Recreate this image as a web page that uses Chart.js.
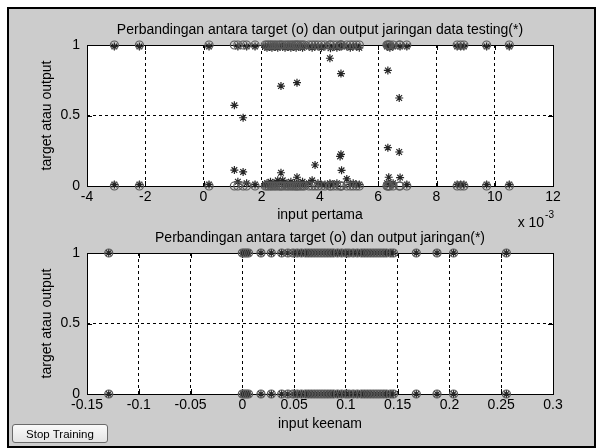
<!DOCTYPE html>
<html>
<head>
<meta charset="utf-8">
<script src="https://cdn.jsdelivr.net/npm/chart.js@4/dist/chart.umd.min.js"></script>
<style>
  html, body { margin: 0; padding: 0; background: #fff; }
  #fig { position: relative; width: 603px; height: 448px; overflow: hidden; background: #fff; }
  #frame { position: absolute; left: 7px; top: 7px; width: 585px; height: 437px; background: #cccccc; border: 2px solid #000; }
  canvas { position: absolute; left: 0; }
  #stop {
    position: absolute; left: 12px; top: 424px; width: 96px; height: 19px; box-sizing: border-box;
    font: 11.5px "Liberation Sans", Arial, sans-serif; color: #000; padding: 0;
    background: linear-gradient(#fafafa, #e4e4e4); border: 1px solid #6a6a6a; border-radius: 3px;
  }
</style>
</head>
<body>
<div id="fig">
  <div id="frame"></div>
  <canvas id="plotAtas" width="603" height="232" style="top:0"></canvas>
  <canvas id="plotBawah" width="603" height="233" style="top:215px"></canvas>
  <button id="stop">Stop Training</button>
</div>
<script>
// subplot 1: input pertama (satuan x 10^-3), dua baris target & output
const inputPertama = [
  -3.06, -2.2, 0.19, 1.06, 1.18, 1.36, 1.48, 1.77, 2.12, 2.18,
  2.24, 2.3, 2.35, 2.42, 2.48, 2.55, 2.62, 2.66, 2.72, 2.8,
  2.87, 2.93, 3.0, 3.06, 3.12, 3.18, 3.21, 3.27, 3.33, 3.4,
  3.46, 3.62, 3.73, 3.83, 3.93, 4.05, 4.17, 4.34, 4.36, 4.46,
  4.58, 4.69, 4.72, 4.74, 4.92, 5.04, 5.14, 5.25, 5.35, 6.3,
  6.33, 6.36, 6.4, 6.51, 6.72, 6.75, 6.98, 8.71, 8.83, 8.94,
  9.72, 10.5
];
const targetPertama1 = [
  1, 1, 1, 1, 1, 1, 1, 1, 1, 1,
  1, 1, 1, 1, 1, 1, 1, 1, 1, 1,
  1, 1, 1, 1, 1, 1, 1, 1, 1, 1,
  1, 1, 1, 1, 1, 1, 1, 1, 1, 1,
  1, 1, 1, 1, 1, 1, 1, 1, 1, 1,
  1, 1, 1, 1, 1, 1, 1, 1, 1, 1,
  1, 1
];
const targetPertama2 = [
  0, 0, 0, 0, 0, 0, 0, 0, 0, 0,
  0, 0, 0, 0, 0, 0, 0, 0, 0, 0,
  0, 0, 0, 0, 0, 0, 0, 0, 0, 0,
  0, 0, 0, 0, 0, 0, 0, 0, 0, 0,
  0, 0, 0, 0, 0, 0, 0, 0, 0, 0,
  0, 0, 0, 0, 0, 0, 0, 0, 0, 0,
  0, 0
];
const outputPertama1 = [
  0.99, 0.99, 0.99, 0.572, 0.99, 0.484, 0.99, 0.99, 0.99, 0.98,
  0.99, 0.99, 0.98, 0.99, 0.99, 0.98, 0.99, 0.709, 0.99, 0.98,
  0.99, 0.99, 0.98, 0.99, 0.99, 0.98, 0.733, 0.99, 0.99, 0.98,
  0.99, 0.99, 0.98, 0.99, 0.99, 0.98, 0.99, 0.906, 0.977, 0.99,
  0.98, 0.99, 0.797, 0.99, 0.99, 0.98, 0.99, 0.99, 0.98, 0.99,
  0.82, 0.99, 0.98, 0.99, 0.624, 0.99, 0.99, 0.99, 0.99, 0.99,
  0.99, 0.99
];
const outputPertama2 = [
  0.01, 0.01, 0.01, 0.113, 0.03, 0.10, 0.02, 0.01, 0.01, 0.02,
  0.01, 0.03, 0.01, 0.02, 0.01, 0.04, 0.02, 0.094, 0.04, 0.01,
  0.02, 0.01, 0.03, 0.01, 0.02, 0.01, 0.062, 0.02, 0.01, 0.03,
  0.01, 0.02, 0.04, 0.149, 0.02, 0.01, 0.01, 0.02, 0.01, 0.01,
  0.02, 0.21, 0.225, 0.111, 0.05, 0.01, 0.02, 0.01, 0.01, 0.02,
  0.272, 0.062, 0.01, 0.02, 0.241, 0.06, 0.01, 0.01, 0.01, 0.01,
  0.01, 0.01
];

// subplot 2: input keenam
const inputKeenam = [
  -0.129, 0.0, 0.002, 0.004, 0.006, 0.018, 0.028, 0.038, 0.044, 0.049,
  0.053, 0.057, 0.061, 0.064, 0.067, 0.07, 0.073, 0.076, 0.079, 0.082,
  0.085, 0.088, 0.092, 0.096, 0.1, 0.103, 0.107, 0.111, 0.115, 0.118,
  0.121, 0.124, 0.127, 0.13, 0.133, 0.136, 0.139, 0.143, 0.146, 0.168,
  0.188, 0.204, 0.255
];
const targetKeenam1 = [
  1, 1, 1, 1, 1, 1, 1, 1, 1, 1,
  1, 1, 1, 1, 1, 1, 1, 1, 1, 1,
  1, 1, 1, 1, 1, 1, 1, 1, 1, 1,
  1, 1, 1, 1, 1, 1, 1, 1, 1, 1,
  1, 1, 1
];
const targetKeenam2 = [
  0, 0, 0, 0, 0, 0, 0, 0, 0, 0,
  0, 0, 0, 0, 0, 0, 0, 0, 0, 0,
  0, 0, 0, 0, 0, 0, 0, 0, 0, 0,
  0, 0, 0, 0, 0, 0, 0, 0, 0, 0,
  0, 0, 0
];
const outputKeenam1 = [
  1, 1, 1, 1, 1, 1, 1, 1, 1, 1,
  1, 1, 1, 1, 1, 1, 1, 1, 1, 1,
  1, 1, 1, 1, 1, 1, 1, 1, 1, 1,
  1, 1, 1, 1, 1, 1, 1, 1, 1, 1,
  1, 1, 1
];
const outputKeenam2 = [
  0, 0, 0, 0, 0, 0, 0, 0, 0, 0,
  0, 0, 0, 0, 0, 0, 0, 0, 0, 0,
  0, 0, 0, 0, 0, 0, 0, 0, 0, 0,
  0, 0, 0, 0, 0, 0, 0, 0, 0, 0,
  0, 0, 0
];

const ticksPertama = { min: -4, max: 12, step: 2 };
const ticksKeenam = { min: -0.15, max: 0.3, step: 0.05 };
const ticksY = { min: 0, max: 1, step: 0.5 };

Chart.defaults.font.family = '"Liberation Sans", Arial, Helvetica, sans-serif';
Chart.defaults.font.size = 14;
Chart.defaults.color = '#000';

const FONT_LH = 14 * 1.2;

function pts(xs, ys) {
  return xs.map((x, i) => ({ x, y: ys[i] }));
}

function fmt(v) {
  return String(+Number(v).toFixed(4));
}

// MATLAB style axes: white box, solid frame, inward ticks, optional "x 10^-3"
const kotakSumbu = {
  id: 'kotakSumbu',
  beforeDraw(chart) {
    const { ctx, chartArea: a } = chart;
    ctx.save();
    ctx.fillStyle = '#fff';
    ctx.fillRect(a.left, a.top, a.right - a.left, a.bottom - a.top);
    ctx.restore();
  },
  beforeDatasetsDraw(chart) {
    const { ctx, chartArea: a, scales } = chart;
    ctx.save();
    ctx.strokeStyle = '#000';
    ctx.lineWidth = 1;
    ctx.beginPath();
    scales.x.ticks.forEach(t => {
      const px = Math.round(scales.x.getPixelForValue(t.value)) + 0.5;
      ctx.moveTo(px, a.bottom); ctx.lineTo(px, a.bottom - 5);
      ctx.moveTo(px, a.top); ctx.lineTo(px, a.top + 5);
    });
    scales.y.ticks.forEach(t => {
      const py = Math.round(scales.y.getPixelForValue(t.value)) + 0.5;
      ctx.moveTo(a.left, py); ctx.lineTo(a.left + 5, py);
      ctx.moveTo(a.right, py); ctx.lineTo(a.right - 5, py);
    });
    ctx.stroke();
    ctx.strokeRect(a.left + 0.5, a.top + 0.5, a.right - a.left, a.bottom - a.top);
    ctx.restore();
  },
  afterDraw(chart, args, opts) {
    if (!opts.pengali) return;
    const { ctx, chartArea: a } = chart;
    ctx.save();
    ctx.fillStyle = '#000';
    ctx.textBaseline = 'middle';
    ctx.font = '10px "Liberation Sans", Arial, sans-serif';
    const wExp = ctx.measureText(opts.pangkat).width;
    ctx.textAlign = 'left';
    ctx.fillText(opts.pangkat, a.right - wExp + 1, a.bottom + 29);
    ctx.font = '14px "Liberation Sans", Arial, sans-serif';
    ctx.textAlign = 'right';
    ctx.fillText(opts.pengali, a.right - wExp, a.bottom + 37);
    ctx.restore();
  }
};

function buatPlot(canvasId, cfg) {
  const canvas = document.getElementById(canvasId);
  return new Chart(canvas, {
    type: 'scatter',
    data: {
      datasets: [
        {
          data: pts(cfg.xs, cfg.target1).concat(pts(cfg.xs, cfg.target2)),
          pointStyle: 'circle',
          pointRadius: 4,
          borderWidth: 1.2,
          borderColor: '#585858',
          backgroundColor: 'rgba(0,0,0,0)',
          clip: false
        },
        {
          data: pts(cfg.xs, cfg.output1).concat(pts(cfg.xs, cfg.output2)),
          pointStyle: 'star',
          pointRadius: 4,
          borderWidth: 1.2,
          borderColor: '#262626',
          backgroundColor: '#262626',
          clip: false
        }
      ]
    },
    options: {
      responsive: false,
      animation: false,
      devicePixelRatio: 1,
      layout: { padding: { left: 0, right: 50, top: 0, bottom: cfg.padBottom } },
      plugins: {
        legend: { display: false },
        tooltip: { enabled: false },
        title: {
          display: true,
          text: cfg.judul,
          fullSize: false,
          color: '#000',
          font: { size: 14, weight: 'normal' },
          padding: { top: cfg.titleTop, bottom: 6.6 }
        },
        kotakSumbu: cfg.pengali ? { pengali: 'x 10', pangkat: '-3' } : {}
      },
      scales: {
        x: {
          type: 'linear',
          min: cfg.xt.min,
          max: cfg.xt.max,
          ticks: { stepSize: cfg.xt.step, padding: 2.6, maxRotation: 0, autoSkip: false, callback: fmt },
          grid: { color: '#000', lineWidth: 1, drawTicks: false },
          border: { display: false, dash: [3, 3] },
          title: { display: true, text: cfg.labelX, padding: { top: 0, bottom: cfg.xTitleBottom } },
          afterFit(s) { s.height = 40; }
        },
        y: {
          type: 'linear',
          min: ticksY.min,
          max: ticksY.max,
          ticks: { stepSize: ticksY.step, padding: 7, callback: fmt },
          grid: { color: '#000', lineWidth: 1, drawTicks: false },
          border: { display: false, dash: [3, 3] },
          title: { display: true, text: 'target atau output', padding: { top: 47 - FONT_LH / 2, bottom: 0 } },
          afterFit(s) { s.width = 87; }
        }
      }
    },
    plugins: [kotakSumbu]
  });
}

buatPlot('plotAtas', {
  xs: inputPertama,
  target1: targetPertama1,
  target2: targetPertama2,
  output1: outputPertama1,
  output2: outputPertama2,
  xt: ticksPertama,
  judul: 'Perbandingan antara target (o) dan output jaringan data testing(*)',
  labelX: 'input pertama',
  titleTop: 30 - FONT_LH / 2,
  xTitleBottom: 2.6,
  padBottom: 6,
  pengali: true
});

buatPlot('plotBawah', {
  xs: inputKeenam,
  target1: targetKeenam1,
  target2: targetKeenam2,
  output1: outputKeenam1,
  output2: outputKeenam2,
  xt: ticksKeenam,
  judul: 'Perbandingan antara target (o) dan output jaringan(*)',
  labelX: 'input keenam',
  titleTop: 23 - FONT_LH / 2,
  xTitleBottom: 1.1,
  padBottom: 14,
  pengali: false
});
</script>
</body>
</html>
